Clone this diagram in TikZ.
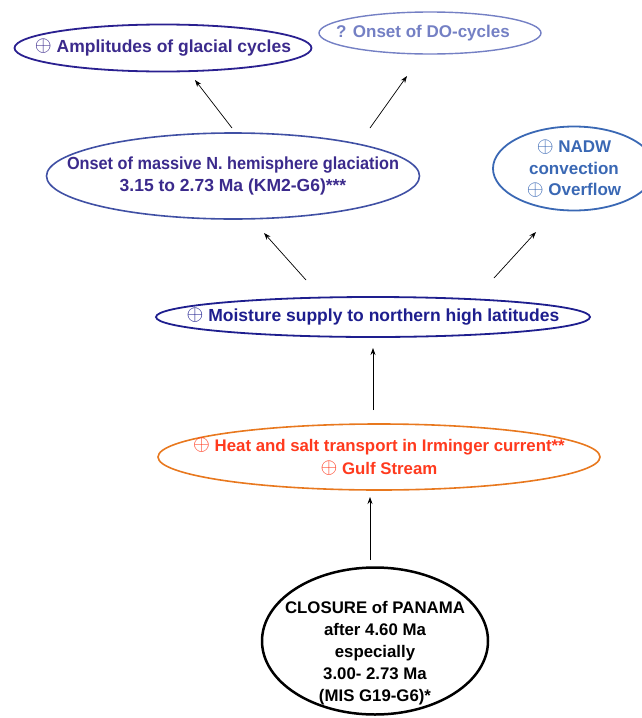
\documentclass[tikz,border=0pt]{standalone}
\usepackage{fontspec}
\setmainfont{Liberation Sans}
\usetikzlibrary{shapes.geometric,arrows.meta}
\definecolor{navy}{HTML}{2A2090}
\definecolor{navytxt}{HTML}{3B2A8C}
\definecolor{dolight}{HTML}{7480C4}
\definecolor{midblue}{HTML}{4050A4}
\definecolor{nadw}{HTML}{3A68B4}
\definecolor{moist}{HTML}{1E1E8E}
\definecolor{orng}{HTML}{E8781E}
\definecolor{redtxt}{HTML}{FF3A1E}
\newcommand{\op}{\smash{\raisebox{0.6pt}{\scalebox{1.25}{$\oplus$}}}}
\newcommand{\sqz}[2]{\scalebox{#1}[1]{#2}}
\tikzset{
  oval/.style={ellipse, draw, inner sep=-200pt, font=\bfseries\fontsize{17.5}{22.5}\selectfont, align=center},
  arr/.style={-{Stealth[length=7pt,width=5pt]}, line width=0.7pt, black}
}
\begin{document}
\begin{tikzpicture}[x=1pt,y=-1pt]
\useasboundingbox (0,0) rectangle (642,718);
\node[oval, draw=navy, line width=1.8pt, text=navytxt, minimum width=297pt, minimum height=47pt] (amp) at (163,48) {\op\ Amplitudes of glacial cycles};
\node[oval, draw=dolight, line width=1.4pt, text=dolight, minimum width=222pt, minimum height=42pt, font=\bfseries\fontsize{17}{22}\selectfont] (do) at (430,33) {\hspace*{-14pt}? Onset of DO-cycles};
\node[oval, draw=midblue, line width=1.6pt, text=navytxt, minimum width=373pt, minimum height=86pt] (nhg) at (233,176) {\sqz{0.93}{Onset of massive N. hemisphere glaciation}\\3.15 to 2.73 Ma (KM2-G6)***};
\node[oval, draw=nadw, line width=1.8pt, text=nadw, minimum width=162pt, minimum height=84pt, font=\bfseries\fontsize{17}{21.5}\selectfont] (nadw) at (574,168.5) {\op\ NADW\\convection\\\op\ Overflow};
\node[oval, draw=moist, line width=1.8pt, text=moist, minimum width=434pt, minimum height=40pt] (moi) at (373,317) {\op\ Moisture supply to northern high latitudes};
\node[oval, draw=orng, line width=1.6pt, text=redtxt, minimum width=442pt, minimum height=66pt, font=\bfseries\fontsize{16.8}{23}\selectfont] (heat) at (379,457) {\op\ Heat and salt transport in Irminger current**\\\op\ Gulf Stream};
\node[oval, draw=black, line width=2.5pt, text=black, minimum width=226pt, minimum height=147pt, font=\bfseries\fontsize{16.8}{22}\selectfont] (pan) at (375,641) {\raisebox{-16pt}[0pt][0pt]{\begin{tabular}{@{}c@{}}CLOSURE of PANAMA\\after 4.60 Ma\\especially\\3.00- 2.73 Ma\\(MIS G19-G6)*\end{tabular}}};
\coordinate (c1) at (370,560); \coordinate (c2) at (370,497);
\coordinate (c3) at (373,410); \coordinate (c4) at (373,348);
\coordinate (c5) at (306,280); \coordinate (c6) at (264,233);
\coordinate (c7) at (494,278); \coordinate (c8) at (536,232);
\coordinate (c9) at (232,128); \coordinate (c10) at (195,80);
\coordinate (c11) at (370,128); \coordinate (c12) at (407,76);
\draw[arr] (c1) -- (c2);
\draw[arr] (c3) -- (c4);
\draw[arr] (c5) -- (c6);
\draw[arr] (c7) -- (c8);
\draw[arr] (c9) -- (c10);
\draw[arr] (c11) -- (c12);
\end{tikzpicture}
\end{document}
